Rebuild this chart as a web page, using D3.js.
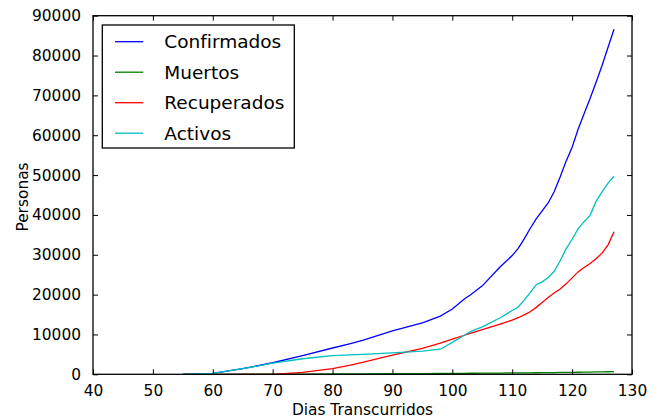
<!DOCTYPE html>
<html lang="es">

<head>
  <meta charset="utf-8">
  <title>Casos por dia</title>
  <script src="https://d3js.org/d3.v7.min.js"></script>
  <style>
    body { margin: 0; background: #fff; }
    text { font-family: "DejaVu Sans", sans-serif; fill: #000; }
  </style>
</head>

<body>
  <div id="chart"></div>
</body>
<script>
  // datos
  var dias = [55, 60, 65, 70, 75, 80, 83, 85, 90, 95, 98, 100, 102, 103, 105, 108, 110, 111, 112,
    113, 114, 115, 116, 117, 118, 119, 120, 121, 122, 123, 124, 125, 126, 127];
  var confirmados = [0, 250, 1400, 2900, 4700, 6600, 7700, 8500, 10900, 12900, 14600, 16400, 18900, 19900,
    22200, 27000, 29800, 31600, 34000, 36600, 39000, 41000, 43000, 45800, 49500, 53500, 57000, 61500,
    65400, 69200, 73300, 77500, 82100, 86600];
  var muertos = [0, 0, 20, 40, 60, 90, 100, 110, 140, 180, 200, 230, 250, 260, 280, 320, 340, 350, 360,
    380, 390, 400, 420, 440, 460, 480, 500, 520, 540, 560, 590, 610, 640, 670];
  var recuperados = [0, 0, 0, 0, 500, 1400, 2300, 3000, 4800, 6500, 7800, 8800, 9800, 10300, 11200, 12600,
    13600, 14200, 14900, 15700, 16800, 18000, 19300, 20400, 21400, 22700, 24200, 25700, 26800, 27800,
    29000, 30400, 32500, 35800];
  var activos = [0, 250, 1400, 2800, 3900, 4700, 4850, 5000, 5400, 5800, 6300, 8000, 9800, 10700, 11900,
    14200, 16000, 16900, 18600, 20500, 22500, 23200, 24300, 25800, 28500, 31500, 33900, 36500, 38300,
    39900, 43400, 45800, 48000, 49700];

  var xTicks = [40, 50, 60, 70, 80, 90, 100, 110, 120, 130];
  var yTicks = [0, 10000, 20000, 30000, 40000, 50000, 60000, 70000, 80000, 90000];

  var series = [
    { name: "Confirmados", values: confirmados, color: "#0000ff" },
    { name: "Muertos", values: muertos, color: "#008000" },
    { name: "Recuperados", values: recuperados, color: "#ff0000" },
    { name: "Activos", values: activos, color: "#00bfbf" }
  ];

  var W = 658, H = 419;
  var margin = { top: 15.7, right: 26, bottom: 44.7, left: 93 };
  var width = W - margin.left - margin.right;
  var height = H - margin.top - margin.bottom;

  var svg = d3.select("#chart")
    .append("svg")
    .attr("width", W)
    .attr("height", H);

  var g = svg.append("g")
    .attr("transform", "translate(" + margin.left + "," + margin.top + ")");

  var x = d3.scaleLinear().domain([40, 130]).range([0, width]);
  var y = d3.scaleLinear().domain([0, 90000]).range([height, 0]);

  // lineas
  var line = d3.line()
    .x(function(d, i) { return x(dias[i]); })
    .y(function(d) { return y(d); });

  g.selectAll(".serie")
    .data(series)
    .enter()
    .append("path")
    .attr("class", "serie")
    .attr("fill", "none")
    .attr("stroke", function(d) { return d.color; })
    .attr("stroke-width", 1.3)
    .attr("d", function(d) { return line(d.values); });

  // ticks hacia adentro en los cuatro lados (estilo matplotlib)
  var tickLen = 5;
  var fs = "15.4px";
  var fmt = d3.format("d");

  var xAxis = g.append("g")
    .attr("transform", "translate(0," + height + ")")
    .call(d3.axisBottom(x).tickValues(xTicks).tickFormat(fmt).tickSizeInner(-tickLen).tickSizeOuter(0).tickPadding(11));
  var xTop = g.append("g")
    .call(d3.axisTop(x).tickValues(xTicks).tickSizeInner(-tickLen).tickSizeOuter(0).tickFormat(""));
  var yAxis = g.append("g")
    .call(d3.axisLeft(y).tickValues(yTicks).tickFormat(fmt).tickSizeInner(-tickLen).tickSizeOuter(0).tickPadding(12));
  var yRight = g.append("g")
    .attr("transform", "translate(" + width + ",0)")
    .call(d3.axisRight(y).tickValues(yTicks).tickSizeInner(-tickLen).tickSizeOuter(0).tickFormat(""));

  [xAxis, xTop, yAxis, yRight].forEach(function(a) {
    a.select(".domain").remove();
    a.selectAll(".tick line").attr("stroke", "#000").attr("stroke-width", 1);
    a.selectAll("text")
      .attr("font-size", fs)
      .attr("font-family", "DejaVu Sans")
      .attr("fill", "#000");
  });

  // marco
  g.append("rect")
    .attr("x", 0)
    .attr("y", 0)
    .attr("width", width)
    .attr("height", height)
    .attr("fill", "none")
    .attr("stroke", "#000")
    .attr("stroke-width", 1.3);

  // etiquetas de ejes
  svg.append("text")
    .attr("x", margin.left + width / 2)
    .attr("y", 414.5)
    .attr("text-anchor", "middle")
    .attr("font-size", fs)
    .text("Dias Transcurridos");

  svg.append("text")
    .attr("transform", "translate(27.5," + (margin.top + height / 2 + 2) + ") rotate(-90)")
    .attr("text-anchor", "middle")
    .attr("font-size", fs)
    .text("Personas");

  // leyenda
  var legend = svg.append("g")
    .attr("transform", "translate(102.3,25)");

  legend.append("rect")
    .attr("width", 192)
    .attr("height", 123)
    .attr("fill", "#fff")
    .attr("stroke", "#000")
    .attr("stroke-width", 1.3);

  var rows = legend.selectAll(".leg")
    .data(series)
    .enter()
    .append("g")
    .attr("class", "leg")
    .attr("transform", function(d, i) { return "translate(0," + (16.7 + i * 30.5) + ")"; });

  rows.append("line")
    .attr("x1", 12.7)
    .attr("x2", 41)
    .attr("stroke", function(d) { return d.color; })
    .attr("stroke-width", 1.3);

  rows.append("text")
    .attr("x", 62)
    .attr("dy", "0.36em")
    .attr("font-size", "18.5px")
    .text(function(d) { return d.name; });
</script>

</html>
